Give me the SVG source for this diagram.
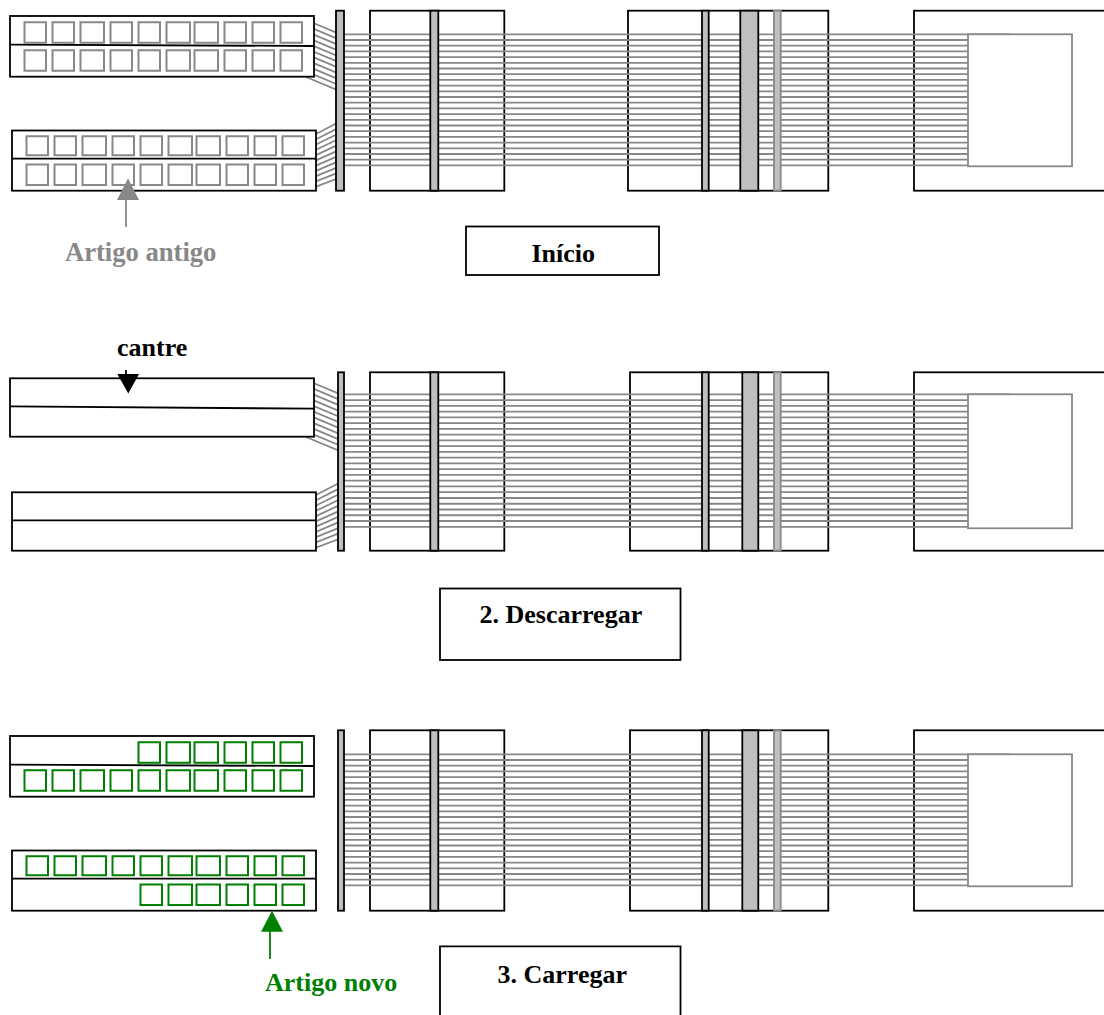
<svg xmlns="http://www.w3.org/2000/svg" xmlns:xlink="http://www.w3.org/1999/xlink" width="1104" height="1015" viewBox="0 0 1104 1015">
<style>
text{font-family:"Liberation Serif","Times New Roman",serif;font-weight:700;font-size:26px}
.box{fill:#fff;stroke:#000;stroke-width:1.8}
.none{fill:none;stroke:#000;stroke-width:1.8}
.bar{fill:#bfbfbf;stroke:#000;stroke-width:1.8}
.gbar{fill:#bfbfbf;stroke:#888;stroke-width:1.8}
.inner{fill:#fff;stroke:#888;stroke-width:1.8}
.fib{fill:none;stroke:#888;stroke-width:1.8}
.old{fill:none;stroke:#888;stroke-width:2}
.new{fill:none;stroke:#008000;stroke-width:2}
.g{fill:#888}.gs{stroke:#888;stroke-width:1.8}
.k{fill:#000}.ks{stroke:#000;stroke-width:1.8}
.n{fill:#008000}.ns{stroke:#008000;stroke-width:1.8}
</style>
<defs>
<path id="r10" d="M24.500 0h21.500v20.500h-21.500zM52.500 0h21.500v20.500h-21.500zM80.500 0h23.500v20.500h-23.500zM110.500 0h21.500v20.500h-21.500zM138.500 0h21.500v20.500h-21.500zM166.500 0h23.500v20.500h-23.500zM194.500 0h23.500v20.500h-23.500zM224.500 0h21.500v20.500h-21.500zM252.500 0h21.500v20.500h-21.500zM280.500 0h21.500v20.500h-21.500z"/>
<path id="r6" d="M138.500 0h21.500v20.500h-21.500zM166.500 0h23.500v20.500h-23.500zM194.500 0h23.500v20.500h-23.500zM224.500 0h21.500v20.500h-21.500zM252.500 0h21.500v20.500h-21.500zM280.500 0h21.500v20.500h-21.500z"/>
<path id="fib13" class="fib" d="M344 34.300h624m-624 5.700h624m-624 5.700h624m-624 5.700h624m-624 5.700h624m-624 5.700h624m-624 5.700h624m-624 5.700h624m-624 5.700h624m-624 5.700h624m-624 5.700h624m-624 5.700h624m-624 5.700h624m-624 5.700h624m-624 5.700h624m-624 5.700h624m-624 5.700h624m-624 5.700h624m-624 5.700h624m-624 5.700h624m-624 5.700h624m-624 5.700h624m-624 5.700h624m-624 5.700h624M968 34.300h42"/>
<path id="fib2" class="fib" d="M344 394.300h624m-624 5.760h624m-624 5.760h624m-624 5.760h624m-624 5.760h624m-624 5.760h624m-624 5.760h624m-624 5.760h624m-624 5.760h624m-624 5.760h624m-624 5.760h624m-624 5.760h624m-624 5.760h624m-624 5.760h624m-624 5.760h624m-624 5.760h624m-624 5.760h624m-624 5.760h624m-624 5.760h624m-624 5.760h624m-624 5.760h624m-624 5.760h624m-624 5.760h624m-624 5.760h624M968 394.300h42"/>
<path id="fanU" class="fib" d="M306 20l34 14.200M306 25.700l34 14.200M306 31.400l34 14.200M306 37.100l34 14.200M306 42.800l34 14.200M306 48.500l34 14.200M306 54.200l34 14.200M306 59.900l34 14.200M306 65.600l34 14.200M306 71.300l34 14.200M306 77l34 14.200"/>
<path id="fanL" class="fib" d="M316 134l24-12.500M316 139.300l24-12.200M316 144.500l24-11.800M316 149.800l24-11.500M316 155.100l24-11.200M316 160.400l24-10.800M316 165.600l24-10.500M316 170.900l24-10.200M316 176.200l24-9.800M316 181.400l24-9.500M316 186.700l24-9.200"/>
</defs>

<g id="connectors">
<use href="#fanU"/><use href="#fanL"/>
<use href="#fanU" y="360"/><use href="#fanL" y="361"/>
</g>

<g id="panel1">
<g id="p1-feed-top"><rect class="box" x="10" y="16" width="304" height="60.700"/><path class="none" d="M10 44.600L314 46"/><use href="#r10" y="22.300" class="old"/><use href="#r10" y="50.300" class="old"/></g>
<g id="p1-feed-bottom"><rect class="box" x="12" y="130.500" width="304" height="60.200"/><path class="none" d="M12 158.700H316"/><use href="#r10" transform="translate(2 136.200) scale(1 .93)" class="old"/><use href="#r10" x="2" y="164.600" class="old"/></g>
<g id="p1-frame-a"><rect class="box" x="370" y="10.700" width="134.300" height="180"/></g>
<g id="p1-frame-b"><rect class="box" x="628" y="10.700" width="200.300" height="180"/></g>
<g id="p1-frame-c"><rect class="box" x="914" y="10.700" width="200" height="180"/></g>
<use href="#fib13"/>
<g id="p1-bars">
<rect class="bar" x="336" y="10.700" width="8" height="180"/><rect class="bar" x="430.300" y="10.700" width="8" height="180"/>
<rect class="bar" x="702" y="10.700" width="6.700" height="180"/><rect class="bar" x="740.300" y="10.700" width="18" height="180"/><rect class="gbar" x="774" y="10.700" width="6.700" height="180"/>
</g>
<g id="p1-inner"><rect class="inner" x="968" y="34.300" width="104" height="132"/></g>
<g id="p1-arrow"><path class="gs" d="M126 200V227"/><path class="g" d="M117 200H139L128 178.300z"/></g>
<text x="65" y="260.500" fill="#888" style="font-size:26.600px">Artigo antigo</text>
<g id="p1-caption"><rect class="box" x="466" y="226.500" width="193" height="48.500"/><text x="531.500" y="261.500">Início</text></g>
</g>

<g id="panel2">
<g id="p2-feed-top"><rect class="box" x="10" y="378.300" width="304" height="58.400"/><path class="none" d="M10 406.300L314 408.700"/></g>
<g id="p2-feed-bottom"><rect class="box" x="12" y="492.300" width="304" height="58.400"/><path class="none" d="M12 520.300H316"/></g>
<g id="p2-frame-a"><rect class="box" x="370" y="372.300" width="134.300" height="178.400"/></g>
<g id="p2-frame-b"><rect class="box" x="630" y="372.300" width="198.300" height="178.400"/></g>
<g id="p2-frame-c"><rect class="box" x="914" y="372.300" width="200" height="178.400"/></g>
<use href="#fib2"/>
<g id="p2-bars">
<rect class="bar" x="338" y="372.300" width="6" height="178.400"/><rect class="bar" x="430.300" y="372.300" width="8" height="178.400"/>
<rect class="bar" x="702" y="372.300" width="6.700" height="178.400"/><rect class="bar" x="742.300" y="372.300" width="16" height="178.400"/><rect class="gbar" x="774" y="372.300" width="6.700" height="178.400"/>
</g>
<g id="p2-inner"><rect class="inner" x="968" y="394.300" width="104" height="134"/></g>
<g id="p2-arrow"><path class="ks" d="M126 370V376"/><path class="k" d="M117.300 374H139L128.300 393.500z"/></g>
<text x="117" y="355.500">cantre</text>
<g id="p2-caption"><rect class="box" x="440" y="588.500" width="240.500" height="71.500"/><text x="479.500" y="623">2. Descarregar</text></g>
</g>

<g id="panel3">
<g id="p3-feed-top"><rect class="box" x="10" y="736" width="304" height="60.700"/><path class="none" d="M10 764.600L314 766"/><use href="#r6" y="742.300" class="new"/><use href="#r10" y="770.300" class="new"/></g>
<g id="p3-feed-bottom"><rect class="box" x="12" y="850.500" width="304" height="60.200"/><path class="none" d="M12 878.700H316"/><use href="#r10" transform="translate(2 856.200) scale(1 .93)" class="new"/><use href="#r6" x="2" y="884.600" class="new"/></g>
<g id="p3-frame-a"><rect class="box" x="370" y="730.300" width="134.300" height="180.400"/></g>
<g id="p3-frame-b"><rect class="box" x="630" y="730.300" width="198.300" height="180.400"/></g>
<g id="p3-frame-c"><rect class="box" x="914" y="730.300" width="200" height="180.400"/></g>
<use href="#fib13" y="720"/>
<g id="p3-bars">
<rect class="bar" x="338" y="730.300" width="6" height="180.400"/><rect class="bar" x="430.300" y="730.300" width="8" height="180.400"/>
<rect class="bar" x="702" y="730.300" width="6.700" height="180.400"/><rect class="bar" x="742.300" y="730.300" width="16" height="180.400"/><rect class="gbar" x="774" y="730.300" width="6.700" height="180.400"/>
</g>
<g id="p3-inner"><rect class="inner" x="968" y="754.300" width="104" height="132"/></g>
<g id="p3-arrow"><path class="ns" d="M270 931V959"/><path class="n" d="M261 931.700H283L272 910.700z"/></g>
<text x="265" y="990.500" fill="#008000">Artigo novo</text>
<g id="p3-caption"><path class="none" d="M440 1015V946.300H680.500V1015"/><text x="497.500" y="982.500">3. Carregar</text></g>
</g>
</svg>
